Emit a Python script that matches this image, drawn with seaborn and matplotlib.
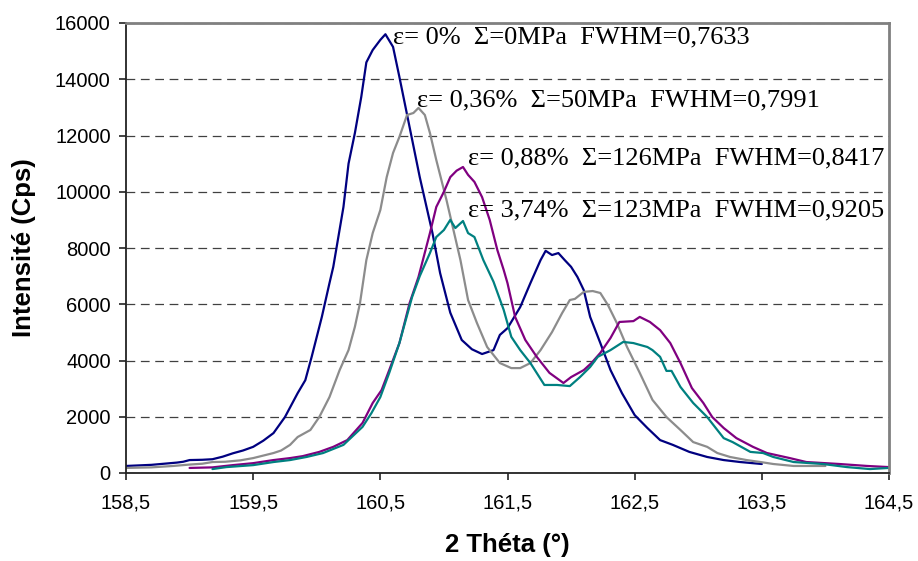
import matplotlib
matplotlib.use("Agg")
import matplotlib.pyplot as plt
from matplotlib.ticker import FuncFormatter
import seaborn as sns
import pandas as pd

# ---- data ----
x_0 = [158.50, 158.60, 158.70, 158.80, 158.90, 158.95, 159.00, 159.10, 159.18, 159.26,
       159.34, 159.42, 159.50, 159.58, 159.66, 159.75, 159.85, 159.91, 159.96, 160.04,
       160.10, 160.13, 160.21, 160.25, 160.30, 160.35, 160.39, 160.44, 160.50, 160.54,
       160.60, 160.65, 160.73, 160.81, 160.91, 160.97, 161.05, 161.14, 161.22, 161.30,
       161.39, 161.44, 161.50, 161.60, 161.68, 161.76, 161.80, 161.85, 161.90, 161.95,
       162.00, 162.05, 162.10, 162.15, 162.23, 162.31, 162.40, 162.50, 162.60, 162.70,
       162.80, 162.93, 163.07, 163.20, 163.33, 163.50]
y_0 = [250, 270, 290, 330, 370, 400, 460, 470, 490, 580,
       700, 800, 930, 1150, 1420, 1990, 2840, 3300, 4130, 5550,
       6750, 7330, 9460, 11000, 12090, 13370, 14600, 15040, 15400, 15600,
       15150, 14080, 12300, 10520, 8530, 7110, 5700, 4730, 4400, 4230,
       4370, 4910, 5150, 5900, 6750, 7570, 7900, 7750, 7820, 7570,
       7330, 6970, 6500, 5550, 4620, 3660, 2840, 2060, 1600, 1170,
       1000, 750, 570, 460, 390, 320]

x_036 = [158.50, 158.70, 158.87, 159.00, 159.10, 159.18, 159.28, 159.40, 159.50, 159.58,
         159.66, 159.72, 159.79, 159.85, 159.95, 160.02, 160.10, 160.18, 160.25, 160.30,
         160.34, 160.39, 160.44, 160.50, 160.55, 160.60, 160.65, 160.71, 160.76, 160.80,
         160.85, 160.89, 160.94, 161.02, 161.13, 161.19, 161.26, 161.34, 161.44, 161.53,
         161.60, 161.68, 161.76, 161.85, 161.93, 161.99, 162.03, 162.10, 162.17, 162.23,
         162.29, 162.36, 162.44, 162.54, 162.64, 162.75, 162.86, 162.96, 163.07, 163.15,
         163.25, 163.38, 163.49, 163.59, 163.75, 164.00]
y_036 = [180, 200, 250, 300, 330, 390, 400, 450, 530, 620,
         710, 800, 1000, 1280, 1530, 1990, 2700, 3660, 4370, 5200,
         6040, 7570, 8530, 9350, 10520, 11380, 11950, 12730, 12800, 12980,
         12730, 12090, 11130, 9710, 7570, 6150, 5330, 4480, 3910, 3730,
         3730, 3910, 4370, 5010, 5690, 6150, 6190, 6440, 6470, 6400,
         5970, 5330, 4480, 3560, 2600, 1990, 1530, 1100, 930, 710,
         570, 460, 390, 320, 250, 250]

x_088 = [159.00, 159.18, 159.34, 159.50, 159.66, 159.79, 159.89, 160.02, 160.13, 160.24,
         160.36, 160.44, 160.51, 160.57, 160.65, 160.73, 160.80, 160.89, 160.94, 161.00,
         161.05, 161.10, 161.15, 161.19, 161.24, 161.30, 161.36, 161.42, 161.47, 161.50,
         161.56, 161.64, 161.73, 161.83, 161.94, 162.00, 162.10, 162.16, 162.23, 162.31,
         162.38, 162.49, 162.54, 162.62, 162.70, 162.78, 162.86, 162.95, 163.04, 163.11,
         163.20, 163.30, 163.43, 163.54, 163.72, 163.85, 164.11, 164.33, 164.50]
y_088 = [180, 200, 280, 350, 460, 530, 600, 750, 930, 1170,
         1780, 2490, 2950, 3660, 4620, 6040, 6970, 8530, 9460, 10000,
         10520, 10750, 10880, 10600, 10350, 9810, 9000, 7930, 7220, 6750,
         5550, 4730, 4130, 3560, 3200, 3410, 3660, 3910, 4270, 4800,
         5370, 5400, 5550, 5370, 5080, 4620, 3910, 3020, 2490, 1990,
         1600, 1240, 930, 710, 530, 390, 320, 250, 210]

x_374 = [159.18, 159.29, 159.50, 159.66, 159.79, 159.92, 160.05, 160.21, 160.36, 160.43,
         160.50, 160.57, 160.65, 160.75, 160.81, 160.89, 160.94, 161.00, 161.05, 161.09,
         161.15, 161.19, 161.24, 161.31, 161.39, 161.47, 161.53, 161.60, 161.68, 161.79,
         161.89, 161.99, 162.07, 162.15, 162.21, 162.31, 162.41, 162.49, 162.60, 162.64,
         162.70, 162.75, 162.79, 162.86, 162.96, 163.07, 163.20, 163.27, 163.41, 163.51,
         163.59, 163.75, 163.98, 164.17, 164.35, 164.50]
y_374 = [140, 210, 280, 390, 460, 570, 710, 1000, 1640, 2130,
         2700, 3560, 4620, 6260, 7000, 7820, 8390, 8640, 9000, 8710,
         8960, 8530, 8390, 7570, 6800, 5800, 4840, 4370, 3910, 3130,
         3130, 3090, 3410, 3770, 4130, 4370, 4660, 4620, 4480, 4370,
         4130, 3630, 3630, 3060, 2490, 1990, 1240, 1100, 750, 710,
         570, 390, 320, 210, 140, 180]

labels = ["ε= 0%  Σ=0MPa  FWHM=0,7633",
          "ε= 0,36%  Σ=50MPa  FWHM=0,7991",
          "ε= 0,88%  Σ=126MPa  FWHM=0,8417",
          "ε= 3,74%  Σ=123MPa  FWHM=0,9205"]
label_x = [160.60, 160.79, 161.19, 161.19]
label_y = [15470, 13260, 11200, 9320]

x_ticks = [158.5, 159.5, 160.5, 161.5, 162.5, 163.5, 164.5]
y_ticks = [0, 2000, 4000, 6000, 8000, 10000, 12000, 14000, 16000]

colors = ["#000080", "#8c8c8c", "#800080", "#008080"]

# ---- plot ----
sns.set_style("white")
plt.rcParams["font.family"] = ["Liberation Sans", "DejaVu Sans"]
plt.rcParams["text.color"] = "black"
plt.rcParams["axes.labelcolor"] = "black"

fig = plt.figure(figsize=(9.18, 5.61), dpi=100)
ax = fig.add_axes([126 / 918, 1 - 473 / 561, (889 - 126) / 918, (473 - 23) / 561])

series = [(x_0, y_0), (x_036, y_036), (x_088, y_088), (x_374, y_374)]
for (xs, ys), c in zip(series, colors):
    df = pd.DataFrame({"x": xs, "y": ys})
    sns.lineplot(data=df, x="x", y="y", color=c, linewidth=1.6, ax=ax,
                 estimator=None, sort=False)

ax.set_xlim(158.5, 164.5)
ax.set_ylim(0, 16000)
ax.set_xticks(x_ticks)
ax.set_yticks(y_ticks)
ax.xaxis.set_major_formatter(FuncFormatter(lambda v, p: f"{v:.1f}".replace(".", ",")))
ax.yaxis.set_major_formatter(FuncFormatter(lambda v, p: f"{int(v)}"))

ax.yaxis.grid(True, linestyle=(0, (7, 4.5)), color="#404040", linewidth=0.9)
ax.xaxis.grid(False)
ax.set_axisbelow(True)

for s in ["left", "bottom"]:
    ax.spines[s].set_color("#222222")
    ax.spines[s].set_linewidth(1.3)
for s in ["top", "right"]:
    ax.spines[s].set_color("#808080")
    ax.spines[s].set_linewidth(2.0)

ax.tick_params(axis="both", which="major", direction="out", length=5, width=1.2,
               color="#222222", labelsize=14.5, labelcolor="black",
               bottom=True, left=True)
ax.tick_params(axis="x", pad=10)
ax.tick_params(axis="y", pad=6)

ax.set_xlabel("2 Théta (°)", fontsize=18.5, fontweight="bold", color="black")
ax.set_ylabel("Intensité (Cps)", fontsize=18.5, fontweight="bold", color="black")
ax.xaxis.label.set_verticalalignment("center")
ax.yaxis.label.set_verticalalignment("center")
ax.xaxis.set_label_coords(0.5, -0.16)
ax.yaxis.set_label_coords(-0.134, 0.5)

for s, lx, ly in zip(labels, label_x, label_y):
    ax.text(lx, ly, s, ha="left", va="center", fontsize=19,
            family=["Liberation Serif", "DejaVu Serif"], color="black")

fig.savefig("out.png", dpi=100)
